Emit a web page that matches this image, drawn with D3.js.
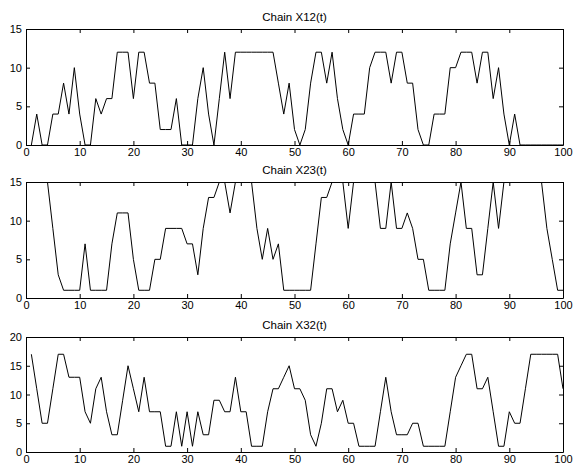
<!DOCTYPE html>
<html>
<head>
<meta charset="utf-8">
<script src="https://cdn.jsdelivr.net/npm/d3@7"></script>
<style>
  html, body { margin: 0; padding: 0; background: #fff; }
  svg { display: block; }
  text { font-family: "Liberation Sans", Arial, Helvetica, sans-serif; fill: #000; }
</style>
</head>
<body>
<div id="chart"></div>
<script>
// ---- data (t = 1..100) ----
const titles = ["Chain X12(t)", "Chain X23(t)", "Chain X32(t)"];
const xTicks = [0, 10, 20, 30, 40, 50, 60, 70, 80, 90, 100];
const yTicks12 = [0, 5, 10, 15];
const yTicks23 = [0, 5, 10, 15];
const yTicks32 = [0, 5, 10, 15, 20];
const x12 = [0,4,0,0,4,4,8,4,10,4, 0,0,6,4,6,6,12,12,12,6, 12,12,8,8,2,2,2,6,0,0,
             0,6,10,4,0,6,12,6,12,12, 12,12,12,12,12,12,8,4,8,2, 0,2,8,12,12,8,12,6,2,0,
             4,4,4,10,12,12,12,8,12,12, 8,8,2,0,0,4,4,4,10,10, 12,12,12,8,12,12,6,10,4,0,
             4,0,0,0,0,0,0,0,0,0];
const x23 = [17,17,17,15,9,3,1,1,1,1, 7,1,1,1,1,7,11,11,11,5, 1,1,1,5,5,9,9,9,9,7,
             7,3,9,13,13,15,15,11,15,17, 17,15,9,5,9,5,7,1,1,1, 1,1,1,7,13,13,15,17,15,9,
             15,17,17,17,15,9,9,15,9,9, 11,9,5,5,1,1,1,1,7,11, 15,9,9,3,3,9,15,9,15,17,
             17,17,17,17,17,15,9,5,1,1];
const x32 = [17,11,5,5,11,17,17,13,13,13, 7,5,11,13,7,3,3,9,15,11, 7,13,7,7,7,1,1,7,1,7,
             1,7,3,3,9,9,7,7,13,7, 7,1,1,1,7,11,11,13,15,11, 11,9,3,1,5,11,11,7,9,5,
             5,1,1,1,1,7,13,7,3,3, 3,5,5,1,1,1,1,1,7,13, 15,17,17,11,11,13,7,1,1,7,
             5,5,11,17,17,17,17,17,17,11];
const seriesList = [x12, x23, x32];
const yDomains = [[0, 15], [0, 15], [0, 20]];
const yTickList = [yTicks12, yTicks23, yTicks32];

// ---- layout ----
const W = 573, H = 468;
const left = 26, right = 563;
const panels = [{top: 29, bottom: 145}, {top: 182, bottom: 298}, {top: 337, bottom: 452}];

const svg = d3.select("#chart").append("svg").attr("width", W).attr("height", H);

const x = d3.scaleLinear().domain([0, 100]).range([left, right]);

panels.forEach((p, i) => {
  const y = d3.scaleLinear().domain(yDomains[i]).range([p.bottom, p.top]);
  const g = svg.append("g");
  const clipId = "clip" + i;
  svg.append("clipPath").attr("id", clipId).append("rect")
    .attr("x", left).attr("y", p.top).attr("width", right - left).attr("height", p.bottom - p.top + 1);

  // data line
  const data = seriesList[i].map((v, k) => ({t: k + 1, v}));
  g.append("path").datum(data)
    .attr("clip-path", `url(#${clipId})`)
    .attr("fill", "none").attr("stroke", "#000").attr("stroke-width", 1)
    .attr("d", d3.line().x(d => x(d.t)).y(d => y(d.v)));

  // axes
  const fs = "11px";
  const bottomAxis = d3.axisBottom(x).tickValues(xTicks).tickSizeInner(-4).tickSizeOuter(0).tickPadding(3);
  const gb = g.append("g").attr("transform", `translate(0,${p.bottom})`).call(bottomAxis);
  const topAxis = d3.axisTop(x).tickValues(xTicks).tickSizeInner(-4).tickSizeOuter(0).tickFormat("");
  const gt = g.append("g").attr("transform", `translate(0,${p.top})`).call(topAxis);
  const leftAxis = d3.axisLeft(y).tickValues(yTickList[i]).tickSizeInner(-4).tickSizeOuter(0).tickPadding(4);
  const gl = g.append("g").attr("transform", `translate(${left},0)`).call(leftAxis);
  const rightAxis = d3.axisRight(y).tickValues(yTickList[i]).tickSizeInner(-4).tickSizeOuter(0).tickFormat("");
  const gr = g.append("g").attr("transform", `translate(${right},0)`).call(rightAxis);
  [gb, gt, gl, gr].forEach(a => {
    a.selectAll(".domain").attr("stroke", "#000").attr("stroke-width", 1);
    a.selectAll(".tick line").attr("stroke", "#000");
    a.selectAll("text").style("font-size", fs).style("font-family", '"Liberation Sans", Arial, sans-serif').attr("fill", "#000");
    a.attr("font-family", null).attr("font-size", null);
  });

  // title
  svg.append("text")
    .attr("x", (left + right) / 2).attr("y", p.top - 8)
    .attr("text-anchor", "middle")
    .style("font-size", "11.5px")
    .text(titles[i]);
});
</script>
</body>
</html>
